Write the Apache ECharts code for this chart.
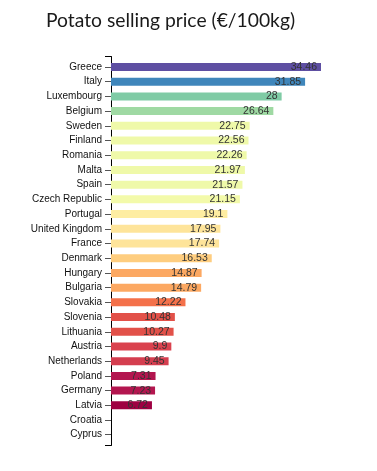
<!DOCTYPE html>
<html>
<head>
<meta charset="utf-8">
<title>Potato selling price</title>
<script src="https://cdn.jsdelivr.net/npm/echarts@6/dist/echarts.min.js"></script>
<style>
    html, body { margin: 0; padding: 0; background: #fff; }
    #chart { width: 377px; height: 471px; }
</style>
</head>
<body>
<div id="chart"></div>
<script>
"use strict";

/* ---------- 1. DATA ---------- */
const countries = ["Greece", "Italy", "Luxembourg", "Belgium", "Sweden", "Finland",
    "Romania", "Malta", "Spain", "Czech Republic", "Portugal", "United Kingdom",
    "France", "Denmark", "Hungary", "Bulgaria", "Slovakia", "Slovenia", "Lithuania",
    "Austria", "Netherlands", "Poland", "Germany", "Latvia", "Croatia", "Cyprus"];

// Croatia, Cyprus — no value
const prices = [34.46, 31.85, 28, 26.64, 22.75, 22.56, 22.26, 21.97, 21.57, 21.15,
    19.1, 17.95, 17.74, 16.53, 14.87, 14.79, 12.22, 10.48, 10.27, 9.9, 9.45,
    7.31, 7.23, 6.72, null, null];

// bar colours (spectral scale, by value)
const barColors = ["#5e4fa2", "#3f86bb", "#7fcba5", "#9fd9a3", "#eff9a9", "#eff9a9",
    "#eff9a9", "#eff9a9", "#eff9a9", "#f3faaa", "#feeda2", "#fee49a", "#fee49a",
    "#fecd7f", "#fca862", "#fca862", "#f4714a", "#e25149", "#e25149", "#da424e",
    "#d43e4f", "#b3164f", "#b3164f", "#9e0142", "#ccc", "#ccc"];

/* ---------- 2. STYLE ---------- */
const FONT = '"Liberation Sans", Arial, sans-serif';
const C = { text: "#111", value: "#333", axis: "#000", tick: "#555" };

/* ---------- 3. CHART ---------- */
const chart = echarts.init(document.getElementById("chart"), null, { renderer: "canvas" });

chart.setOption({
    animation: false,
    textStyle: { fontFamily: FONT },
    title: {
        text: "Potato selling price (€/100kg)",
        left: 41, top: 6,
        textStyle: { fontFamily: "Lato, sans-serif", fontSize: 19.3, fontWeight: "normal", color: "#1a1a1a" }
    },
    // 0 — bars, 1 — axis line with outer ticks (d3 style)
    grid: [
        { left: 111, right: 56, top: 59.6, bottom: 28.9 },
        { left: 111, right: 56, top: 56.5, bottom: 25.5 }
    ],
    xAxis: [
        { gridIndex: 0, type: "value", min: 0, max: "dataMax", show: false },
        { gridIndex: 1, type: "value", min: 0, max: 1, show: false }
    ],
    yAxis: [
        {
            gridIndex: 0, type: "category", data: countries, inverse: true,
            axisLine: { show: false },
            axisTick: { show: true, alignWithLabel: true, length: 6, lineStyle: { color: C.tick, width: 1 } },
            axisLabel: { color: C.text, fontSize: 10, margin: 9, fontFamily: FONT },
            splitLine: { show: false }
        },
        {
            gridIndex: 1, type: "value", min: 0, max: 1, interval: 1,
            axisLine: { show: true, lineStyle: { color: C.axis, width: 1 } },
            axisTick: { show: true, length: 6, lineStyle: { color: C.axis, width: 1 } },
            axisLabel: { show: false },
            splitLine: { show: false }
        }
    ],
    series: [{
        type: "bar",
        xAxisIndex: 0, yAxisIndex: 0,
        barWidth: 8,
        data: prices.map((v, i) => ({ value: v, itemStyle: { color: barColors[i] } })),
        label: {
            show: true, position: "insideRight", distance: 4,
            color: C.value, fontSize: 10.5, fontFamily: FONT,
            formatter: p => (p.value == null ? "" : String(p.value))
        }
    }]
});
</script>
</body>
</html>
